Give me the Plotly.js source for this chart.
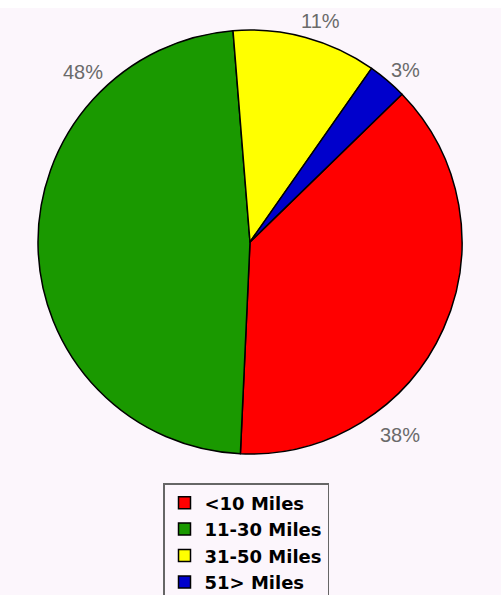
<!DOCTYPE html>
<html>
<head>
<meta charset="utf-8">
<script src="https://cdn.plot.ly/plotly-3.0.1.min.js"></script>
<style>html,body{margin:0;padding:0;background:#fcf6fc;overflow:hidden;}#chart{width:501px;height:625px;}</style>
</head>
<body>
<div id="chart"></div>
<script>
const categories = ["<10 Miles", "11-30 Miles", "31-50 Miles", "51> Miles"];
const percents = [38, 48, 11, 3];
const colors = ["#ff0000", "#1a9900", "#ffff00", "#0000cc"];

const W = 501, H = 625;
// label anchor positions (pixels from top-left) for each slice's percentage text
const labelPx = [[400, 435], [83, 72], [320, 21], [405, 70]];

const annotations = percents.map((v, i) => ({
  text: v + "%",
  x: labelPx[i][0] / W, y: 1 - labelPx[i][1] / H,
  xref: "paper", yref: "paper",
  xanchor: "center", yanchor: "middle",
  showarrow: false,
  font: {family: "Liberation Sans, Arial, sans-serif", size: 20, color: "#6a6a6a"}
}));

const trace = {
  type: "pie",
  labels: categories,
  values: percents,
  sort: false,
  direction: "clockwise",
  rotation: 45.8,
  textinfo: "none",
  hoverinfo: "label+percent",
  marker: {colors: colors, line: {color: "#000000", width: 1.5}},
  domain: {x: [(250-212)/W, (250+212)/W], y: [1-(242+212)/H, 1-(242-212)/H]}
};

const layout = {
  width: W, height: H,
  margin: {l: 0, r: 0, t: 0, b: 0},
  paper_bgcolor: "#fcf6fc",
  plot_bgcolor: "#fcf6fc",
  showlegend: true,
  legend: {
    x: 246/W, xanchor: "center",
    y: 1-483/H, yanchor: "top",
    bgcolor: "#fcf6fc",
    bordercolor: "#666666", borderwidth: 1.5,
    font: {family: "DejaVu Sans, sans-serif", size: 18, color: "#000000", weight: "bold"},
    tracegroupgap: 0,
    itemwidth: 30
  },
  annotations: annotations,
  shapes: [
    {type: "rect", xref: "paper", yref: "paper", x0: 0, x1: 1, y0: 1-8/H, y1: 1, fillcolor: "#ffffff", line: {width: 0}, layer: "below"}
  ]
};

Plotly.newPlot("chart", [trace], layout, {displayModeBar: false, staticPlot: true});
</script>
</body>
</html>
